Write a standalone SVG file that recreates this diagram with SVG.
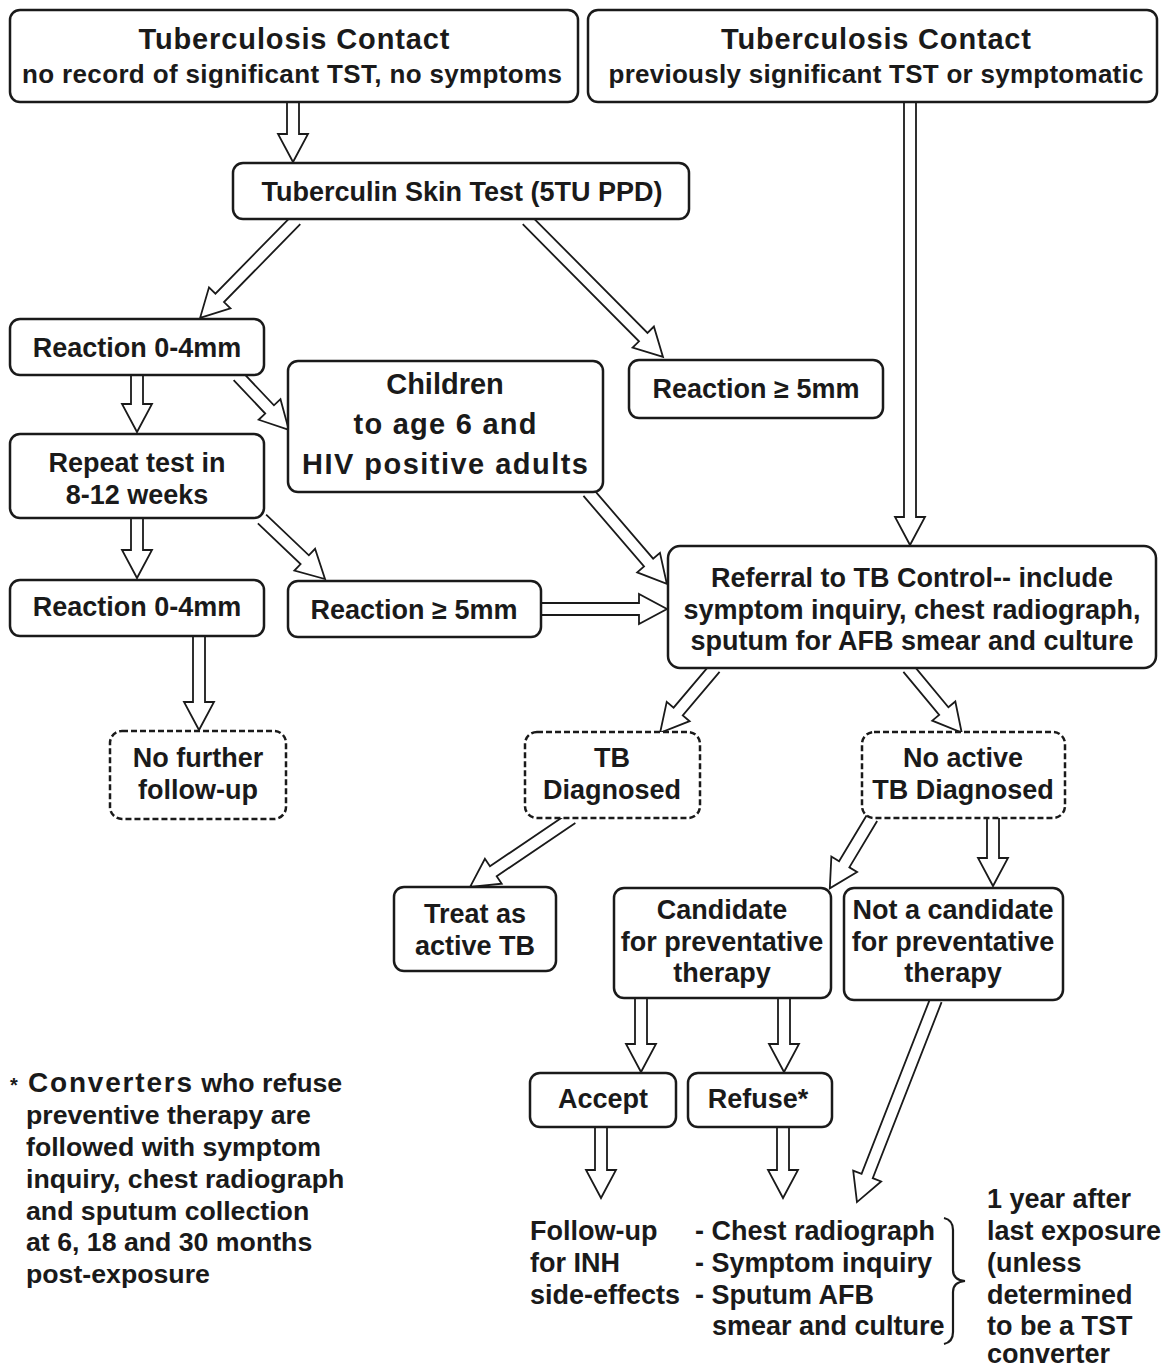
<svg xmlns="http://www.w3.org/2000/svg" width="1163" height="1368" viewBox="0 0 1163 1368">
<style>
  .box{fill:#fff;stroke:#1a1a1a;stroke-width:2.5}
  .dash{fill:#fff;stroke:#1a1a1a;stroke-width:2.5;stroke-dasharray:6 3}
  .t{font-family:"Liberation Sans",Arial,sans-serif;font-weight:bold;font-size:27px;fill:#1a1a1a;text-anchor:middle}
  .s{font-family:"Liberation Sans",Arial,sans-serif;font-weight:bold;font-size:26px;fill:#1a1a1a;text-anchor:middle}
  .h{font-family:"Liberation Sans",Arial,sans-serif;font-weight:bold;font-size:29px;fill:#1a1a1a;text-anchor:middle}
  .l{font-family:"Liberation Sans",Arial,sans-serif;font-weight:bold;font-size:27px;fill:#1a1a1a}
  .n{font-family:"Liberation Sans",Arial,sans-serif;font-weight:bold;font-size:26.7px;fill:#1a1a1a}
  .ar{fill:#fff;stroke:#1a1a1a;stroke-width:1.8;stroke-linejoin:miter}
</style>
<rect width="1163" height="1368" fill="#fff"/>

<g id="connectors">
  <g class="ar" transform="translate(293,102) rotate(90)"><path d="M0,-6 H32 V-15 L60,0 L32,15 V6 H0"/></g>
  <g class="ar" transform="translate(910,102) rotate(90)"><path d="M0,-6 H415 V-15 L443,0 L415,15 V6 H0"/></g>
  <g class="ar" transform="translate(296,220) rotate(134.41)"><path d="M0,-6 H109 V-15 L137,0 L109,15 V6 H0"/></g>
  <g class="ar" transform="translate(527,220) rotate(45.21)"><path d="M0,-6 H165 V-15 L193,0 L165,15 V6 H0"/></g>
  <g class="ar" transform="translate(238,376) rotate(46.64)"><path d="M0,-6 H46 V-15 L74,0 L46,15 V6 H0"/></g>
  <g class="ar" transform="translate(137,376) rotate(90)"><path d="M0,-6 H28 V-15 L56,0 L28,15 V6 H0"/></g>
  <g class="ar" transform="translate(137,519) rotate(90)"><path d="M0,-6 H31 V-15 L59,0 L31,15 V6 H0"/></g>
  <g class="ar" transform="translate(262,519) rotate(43.6)"><path d="M0,-6 H59 V-15 L87,0 L59,15 V6 H0"/></g>
  <g class="ar" transform="translate(541,609)"><path d="M0,-6 H98 V-15 L126,0 L98,15 V6 H0"/></g>
  <g class="ar" transform="translate(588,492) rotate(49.35)"><path d="M0,-6 H93 V-15 L121,0 L93,15 V6 H0"/></g>
  <g class="ar" transform="translate(199,637) rotate(90)"><path d="M0,-6 H65 V-15 L93,0 L65,15 V6 H0"/></g>
  <g class="ar" transform="translate(715,668) rotate(130.24)"><path d="M0,-6 H57 V-15 L85,0 L57,15 V6 H0"/></g>
  <g class="ar" transform="translate(908,668) rotate(50.28)"><path d="M0,-6 H56 V-15 L84,0 L56,15 V6 H0"/></g>
  <g class="ar" transform="translate(572,818) rotate(145.92)"><path d="M0,-6 H95 V-15 L123,0 L95,15 V6 H0"/></g>
  <g class="ar" transform="translate(872,818) rotate(120.96)"><path d="M0,-6 H54 V-15 L82,0 L54,15 V6 H0"/></g>
  <g class="ar" transform="translate(993,818) rotate(90)"><path d="M0,-6 H40 V-15 L68,0 L40,15 V6 H0"/></g>
  <g class="ar" transform="translate(641,998) rotate(90)"><path d="M0,-6 H46 V-15 L74,0 L46,15 V6 H0"/></g>
  <g class="ar" transform="translate(784,998) rotate(90)"><path d="M0,-6 H46 V-15 L74,0 L46,15 V6 H0"/></g>
  <g class="ar" transform="translate(601,1128) rotate(90)"><path d="M0,-6 H42 V-15 L70,0 L42,15 V6 H0"/></g>
  <g class="ar" transform="translate(783,1128) rotate(90)"><path d="M0,-6 H42 V-15 L70,0 L42,15 V6 H0"/></g>
  <g class="ar" transform="translate(936,1000) rotate(111.36)"><path d="M0,-6 H189 V-15 L217,0 L189,15 V6 H0"/></g>
</g>

<g id="contact-no-tst">
  <rect class="box" x="10" y="10" width="568" height="92" rx="10"/>
  <text class="h" x="294" y="49" textLength="311">Tuberculosis Contact</text>
  <text class="s" x="292" y="83" textLength="540">no record of significant TST, no symptoms</text>
</g>
<g id="contact-prev-tst">
  <rect class="box" x="588" y="10" width="569" height="92" rx="10"/>
  <text class="h" x="876" y="49" textLength="310">Tuberculosis Contact</text>
  <text class="s" x="876" y="83" textLength="535">previously significant TST or symptomatic</text>
</g>
<g id="tst">
  <rect class="box" x="233" y="163" width="456" height="56" rx="10"/>
  <text class="t" x="462" y="201">Tuberculin Skin Test (5TU PPD)</text>
</g>
<g id="reaction1-neg">
  <rect class="box" x="10" y="319" width="254" height="56" rx="10"/>
  <text class="t" x="137" y="357">Reaction 0-4mm</text>
</g>
<g id="reaction1-pos">
  <rect class="box" x="629" y="360" width="254" height="58" rx="10"/>
  <text class="t" x="756" y="398">Reaction  ≥ 5mm</text>
</g>
<g id="children">
  <rect class="box" x="288" y="361" width="315" height="131" rx="10"/>
  <text class="h" x="445" y="394">Children</text>
  <text class="h" x="445" y="434" textLength="183">to age 6 and</text>
  <text class="h" x="445" y="474" textLength="286">HIV positive adults</text>
</g>
<g id="repeat">
  <rect class="box" x="10" y="434" width="254" height="84" rx="10"/>
  <text class="t" x="137" y="472">Repeat test in</text>
  <text class="t" x="137" y="504">8-12 weeks</text>
</g>
<g id="reaction2-neg">
  <rect class="box" x="10" y="580" width="254" height="56" rx="10"/>
  <text class="t" x="137" y="616">Reaction 0-4mm</text>
</g>
<g id="reaction2-pos">
  <rect class="box" x="288" y="581" width="253" height="56" rx="10"/>
  <text class="t" x="414" y="619">Reaction  ≥ 5mm</text>
</g>
<g id="referral">
  <rect class="box" x="668" y="546" width="488" height="122" rx="12"/>
  <text class="t" x="912" y="587">Referral to TB Control-- include</text>
  <text class="t" x="912" y="619">symptom inquiry, chest radiograph,</text>
  <text class="t" x="912" y="650">sputum for AFB smear and culture</text>
</g>
<g id="no-followup">
  <rect class="dash" x="110" y="731" width="176" height="88" rx="12"/>
  <text class="t" x="198" y="767">No further</text>
  <text class="t" x="198" y="799">follow-up</text>
</g>
<g id="tb-diagnosed">
  <rect class="dash" x="525" y="732" width="175" height="86" rx="12"/>
  <text class="t" x="612" y="767">TB</text>
  <text class="t" x="612" y="799">Diagnosed</text>
</g>
<g id="no-active-tb">
  <rect class="dash" x="862" y="732" width="203" height="86" rx="12"/>
  <text class="t" x="963" y="767">No active</text>
  <text class="t" x="963" y="799">TB Diagnosed</text>
</g>
<g id="treat">
  <rect class="box" x="394" y="887" width="162" height="84" rx="10"/>
  <text class="t" x="475" y="923">Treat as</text>
  <text class="t" x="475" y="955">active TB</text>
</g>
<g id="candidate">
  <rect class="box" x="614" y="888" width="217" height="110" rx="10"/>
  <text class="t" x="722" y="919">Candidate</text>
  <text class="t" x="722" y="951">for preventative</text>
  <text class="t" x="722" y="982">therapy</text>
</g>
<g id="not-candidate">
  <rect class="box" x="844" y="888" width="219" height="112" rx="10"/>
  <text class="t" x="953" y="919">Not a candidate</text>
  <text class="t" x="953" y="951">for preventative</text>
  <text class="t" x="953" y="982">therapy</text>
</g>
<g id="accept">
  <rect class="box" x="530" y="1073" width="146" height="54" rx="10"/>
  <text class="t" x="603" y="1108">Accept</text>
</g>
<g id="refuse">
  <rect class="box" x="688" y="1073" width="144" height="54" rx="10"/>
  <text class="t" x="758" y="1108">Refuse*</text>
</g>

<g id="followup-inh">
  <text class="l" x="530" y="1240">Follow-up</text>
  <text class="l" x="530" y="1272">for INH</text>
  <text class="l" x="530" y="1304">side-effects</text>
</g>
<g id="checks">
  <text class="l" x="695" y="1240">- Chest radiograph</text>
  <text class="l" x="695" y="1272">- Symptom inquiry</text>
  <text class="l" x="695" y="1304">- Sputum AFB</text>
  <text class="l" x="712" y="1335">smear and culture</text>
  <path d="M944,1218 Q953,1220 953,1230 L953,1270 Q953,1280 965,1281 Q953,1282 953,1292 L953,1332 Q953,1342 944,1344" fill="none" stroke="#1a1a1a" stroke-width="2.2"/>
</g>
<g id="one-year">
  <text class="l" x="987" y="1208">1 year after</text>
  <text class="l" x="987" y="1240">last exposure</text>
  <text class="l" x="987" y="1272">(unless</text>
  <text class="l" x="987" y="1304">determined</text>
  <text class="l" x="987" y="1335">to be a TST</text>
  <text class="l" x="987" y="1363">converter</text>
</g>
<g id="note">
  <text class="n" x="10" y="1092" style="font-size:20px">*</text>
  <text class="n" x="28" y="1092"><tspan style="font-size:28px" letter-spacing="1.8">Converters</tspan> who refuse</text>
  <text class="n" x="26" y="1124">preventive therapy are</text>
  <text class="n" x="26" y="1156">followed with symptom</text>
  <text class="n" x="26" y="1188">inquiry, chest radiograph</text>
  <text class="n" x="26" y="1220">and sputum collection</text>
  <text class="n" x="26" y="1251">at 6, 18 and 30 months</text>
  <text class="n" x="26" y="1283">post-exposure</text>
</g>
</svg>
